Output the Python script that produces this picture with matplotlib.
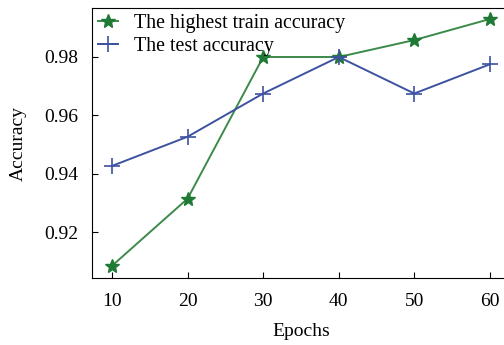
import matplotlib.pyplot as plt

plt.rcParams["font.family"] = ["Liberation Serif", "DejaVu Serif"]

epochs = [10, 20, 30, 40, 50, 60]
train_acc = [0.9085, 0.9315, 0.980, 0.980, 0.9858, 0.993]
test_acc = [0.9427, 0.9527, 0.9675, 0.980, 0.9675, 0.9775]

fig = plt.figure(figsize=(5.04, 3.45), dpi=100)
ax = fig.add_axes([0.1825, 0.194, 0.83, 0.783])

ax.plot(epochs, train_acc, color="#3c8a4a", lw=1.4, marker="*", ms=10,
        mfc="#1f7a35", mec="#1f7a35", label="The highest train accuracy")
ax.plot(epochs, test_acc, color="#3d52a0", lw=1.4, marker="+", ms=12,
        mew=1.2, label="The test accuracy")

ax.set_xlim(7.35, 62.7)
ax.set_ylim(0.9043, 0.9968)
ax.set_xticks(epochs)
ax.set_yticks([0.92, 0.94, 0.96, 0.98])
ax.tick_params(direction="in", labelsize=14, length=4)
ax.tick_params(axis="x", pad=11)
ax.tick_params(axis="y", pad=10)
ax.set_xlabel("Epochs", fontsize=14, labelpad=9)
ax.set_ylabel("Accuracy", fontsize=14, labelpad=12)

ax.legend(loc="upper left", frameon=False, fontsize=14.4, borderaxespad=0.0,
          borderpad=0.3, handlelength=1.0, handletextpad=0.8, labelspacing=0.2)

fig.savefig("out.png", dpi=100)
